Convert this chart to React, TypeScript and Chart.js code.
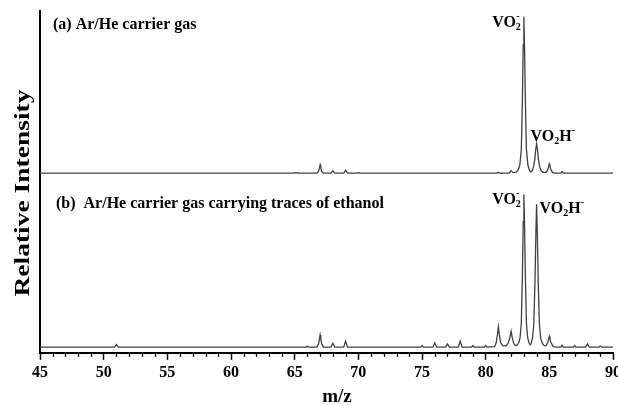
import React, { useEffect, useRef } from 'react';
import { Chart, registerables } from 'chart.js';

Chart.register(...registerables);

// ---- data ----
const X_MIN = 45;
const X_MAX = 90;
const X_STEP = 5;

// (a) Ar/He carrier gas — m/z and relative intensity (VO2- = 100)
const MZ_A = [
  45, 64.9, 65.1, 65.3, 66.75, 66.88, 66.95, 67, 67.05, 67.12, 67.25, 67.85, 68, 68.15,
  68.85, 69, 69.15, 69.9, 70, 70.1, 80.9, 81, 81.1, 81.85, 82, 82.15, 82.4, 82.55, 82.68,
  82.8, 82.88, 82.95, 83, 83.05, 83.12, 83.2, 83.32, 83.45, 83.55, 83.65, 83.76, 83.86, 83.93,
  84, 84.07, 84.14, 84.24, 84.36, 84.5, 84.75, 84.88, 84.95, 85, 85.05, 85.12, 85.25, 85.4,
  85.9, 86, 86.1, 90,
];
const INT_A = [
  0, 0, 0.3, 0, 0, 1.2, 3.5, 5.3, 3.5, 1.2, 0, 0, 1.5, 0,
  0, 1.7, 0, 0, 0.3, 0, 0, 0.6, 0, 0, 1.5, 0.3, 0.6, 2, 5,
  15, 45, 82, 100, 82, 45, 15, 5, 1.5, 0.8, 1.5, 4, 9, 15,
  18.7, 15, 9, 4, 1.5, 0.5, 0.5, 2.2, 4.5, 5.9, 4.5, 2.2, 0.5, 0,
  0, 1, 0, 0,
];

// (b) Ar/He carrier gas carrying traces of ethanol
const MZ_B = [
  45, 50.85, 51, 51.15, 65.9, 66, 66.1, 66.75, 66.88, 66.95, 67, 67.05, 67.12, 67.25,
  67.85, 68, 68.15, 68.85, 69, 69.15, 74.9, 75, 75.1, 75.85, 76, 76.15, 76.85, 77, 77.15,
  77.85, 78, 78.15, 78.9, 79, 79.1, 79.9, 80, 80.1, 80.7, 80.83, 80.92, 81, 81.08, 81.17,
  81.35, 81.6, 81.76, 81.89, 82, 82.09, 82.2, 82.35, 82.5, 82.6, 82.7, 82.8, 82.88, 82.95,
  83, 83.05, 83.12, 83.2, 83.3, 83.42, 83.5, 83.58, 83.68, 83.78, 83.87, 83.95, 84, 84.05,
  84.13, 84.22, 84.32, 84.45, 84.6, 84.75, 84.88, 84.95, 85, 85.05, 85.12, 85.3, 85.5,
  85.9, 86, 86.1, 86.9, 87, 87.1, 87.85, 88, 88.15, 88.9, 89, 89.1, 90,
];
const INT_B = [
  0, 0, 1.7, 0, 0, 0.5, 0, 0, 2.2, 5.5, 8, 5.5, 2.2, 0,
  0, 2.6, 0, 0, 3.9, 0, 0, 1.1, 0, 0, 2.8, 0, 0, 2, 0,
  0, 3.9, 0, 0, 1, 0, 0, 1.1, 0, 0.3, 3, 8, 13.3, 8, 3,
  0.8, 0.8, 2.5, 6, 10.3, 6, 2.5, 1, 1.5, 3, 6, 16, 45, 82,
  100, 82, 45, 16, 6, 2.5, 1.5, 2.5, 6, 15, 42, 77, 93.5, 77,
  42, 15, 6, 2.5, 1, 1, 3, 5.5, 7, 5.5, 3, 0.5, 0,
  0, 1.3, 0, 0, 1.1, 0, 0, 2, 0, 0, 0.7, 0, 0,
];

const LABEL_A = '(a) Ar/He carrier gas';
const LABEL_B = '(b)  Ar/He carrier gas carrying traces of ethanol';
const Y_TITLE = 'Relative Intensity';
const X_TITLE = 'm/z';
const PEAK_VO2 = 83;
const PEAK_VO2H = 84;

const FONT = '"Liberation Serif", "Times New Roman", serif';
const LINE_COLOR = '#404040';

type Part = { t: string; k: 'n' | 'sub' | 'sup' };
const VO2_PARTS: Part[] = [
  { t: 'VO', k: 'n' },
  { t: '2', k: 'sub' },
  { t: '-', k: 'sup' },
];
const VO2H_PARTS: Part[] = [
  { t: 'VO', k: 'n' },
  { t: '2', k: 'sub' },
  { t: 'H', k: 'n' },
  { t: '-', k: 'sup' },
];

function drawChem(ctx: CanvasRenderingContext2D, parts: Part[], x: number, y: number, align: 'left' | 'right') {
  const big = 'bold 16px ' + FONT;
  const small = 'bold 10px ' + FONT;
  let w = 0;
  let lastSubW = 0;
  const widths: number[] = [];
  parts.forEach((p) => {
    ctx.font = p.k === 'n' ? big : small;
    widths.push(ctx.measureText(p.t).width);
  });
  parts.forEach((p, i) => {
    if (p.k === 'sup' && i > 0 && parts[i - 1].k === 'sub') {
      w += Math.max(0, widths[i] - lastSubW);
    } else {
      w += widths[i];
    }
    lastSubW = p.k === 'sub' ? widths[i] : 0;
  });
  let cx = align === 'left' ? x : x - w;
  let subStart = 0;
  ctx.textAlign = 'left';
  ctx.textBaseline = 'alphabetic';
  ctx.fillStyle = '#000';
  parts.forEach((p, i) => {
    if (p.k === 'n') {
      ctx.font = big;
      ctx.fillText(p.t, cx, y);
      cx += widths[i];
    } else if (p.k === 'sub') {
      ctx.font = small;
      subStart = cx;
      ctx.fillText(p.t, cx, y + 3);
      cx += widths[i];
    } else {
      ctx.font = small;
      const px = i > 0 && parts[i - 1].k === 'sub' ? subStart + 0.5 : cx;
      ctx.fillText(p.t, px, y - 8);
      cx = Math.max(cx, px + widths[i]);
    }
  });
}

const decorPlugin = {
  id: 'decor',
  afterDraw(chart: any) {
    const ctx: CanvasRenderingContext2D = chart.ctx;
    const xs = chart.scales.x;
    const yA = chart.scales.yA;
    const yB = chart.scales.yB;
    const area = chart.chartArea;
    ctx.save();

    // minor ticks
    ctx.strokeStyle = '#000';
    ctx.lineWidth = 1.3;
    for (let m = X_MIN + 1; m < X_MAX; m++) {
      if (m % X_STEP === 0) continue;
      const px = Math.round(xs.getPixelForValue(m)) + 0.5;
      ctx.beginPath();
      ctx.moveTo(px, area.bottom);
      ctx.lineTo(px, area.bottom + 4);
      ctx.stroke();
    }

    // panel labels
    ctx.fillStyle = '#000';
    ctx.font = 'bold 16px ' + FONT;
    ctx.textAlign = 'left';
    ctx.textBaseline = 'alphabetic';
    ctx.fillText(LABEL_A, area.left + 13, area.top + 18);
    ctx.fillText(LABEL_B, area.left + 16, area.top + 197);

    // peak labels
    const x83 = xs.getPixelForValue(PEAK_VO2);
    const x84 = xs.getPixelForValue(PEAK_VO2H);
    drawChem(ctx, VO2_PARTS, x83 - 3, yA.getPixelForValue(INT_A[MZ_A.indexOf(PEAK_VO2)]) + 10, 'right');
    drawChem(ctx, VO2H_PARTS, x84 - 6, yA.getPixelForValue(INT_A[MZ_A.indexOf(PEAK_VO2H)]) - 3, 'left');
    drawChem(ctx, VO2_PARTS, x83 - 3, yB.getPixelForValue(INT_B[MZ_B.indexOf(PEAK_VO2)]) + 10, 'right');
    drawChem(ctx, VO2H_PARTS, x84 + 3, yB.getPixelForValue(INT_B[MZ_B.indexOf(PEAK_VO2H)]) + 9, 'left');

    // y title (stretched along its length)
    ctx.font = 'bold 20px ' + FONT;
    const tw = ctx.measureText(Y_TITLE).width;
    ctx.translate(24, 193);
    ctx.rotate(-Math.PI / 2);
    ctx.scale(207 / tw, 1);
    ctx.textAlign = 'center';
    ctx.textBaseline = 'middle';
    ctx.fillText(Y_TITLE, 0, 0);
    ctx.setTransform(1, 0, 0, 1, 0, 0);

    // x title
    ctx.font = 'bold 19px ' + FONT;
    ctx.textAlign = 'center';
    ctx.textBaseline = 'alphabetic';
    ctx.fillText(X_TITLE, 337, 402);

    ctx.restore();
  },
};

export default function App() {
  const ref = useRef<HTMLCanvasElement | null>(null);

  useEffect(() => {
    document.body.style.margin = '0';
    const canvas = ref.current;
    if (!canvas) return;
    const chart = new Chart(canvas, {
      type: 'line',
      data: {
        datasets: [
          {
            label: LABEL_A,
            data: MZ_A.map((x, i) => ({ x, y: INT_A[i] })),
            yAxisID: 'yA',
            borderColor: LINE_COLOR,
            borderWidth: 1.3,
            pointRadius: 0,
            tension: 0,
            fill: false,
          },
          {
            label: LABEL_B,
            data: MZ_B.map((x, i) => ({ x, y: INT_B[i] })),
            yAxisID: 'yB',
            borderColor: LINE_COLOR,
            borderWidth: 1.3,
            pointRadius: 0,
            tension: 0,
            fill: false,
          },
        ],
      },
      options: {
        responsive: false,
        animation: false,
        devicePixelRatio: 1,
        layout: { padding: { left: 40, top: 11, right: 5, bottom: 20 } },
        plugins: { legend: { display: false }, tooltip: { enabled: false }, title: { display: false } },
        scales: {
          x: {
            type: 'linear',
            position: 'bottom',
            min: X_MIN,
            max: X_MAX,
            ticks: {
              stepSize: X_STEP,
              autoSkip: false,
              maxRotation: 0,
              padding: 3,
              color: '#000',
              font: { family: FONT, size: 16, weight: 'bold' },
            },
            grid: {
              display: true,
              drawOnChartArea: false,
              drawTicks: true,
              tickLength: 7,
              tickWidth: 1.5,
              tickColor: '#000',
            },
            border: { display: true, color: '#000', width: 2 },
            afterFit: (s: any) => {
              s.paddingLeft = 0;
              s.paddingRight = 0;
            },
          },
          yA: {
            type: 'linear',
            display: false,
            min: -114.8,
            max: 103.6,
          },
          yB: {
            type: 'linear',
            position: 'left',
            min: -3.7,
            max: 219.8,
            ticks: { display: false },
            grid: { display: false, drawTicks: false, tickLength: 0 },
            border: { display: true, color: '#000', width: 2 },
          },
        },
      },
      plugins: [decorPlugin],
    } as any);
    return () => chart.destroy();
  }, []);

  return (
    <div style={{ width: 618, height: 405 }}>
      <canvas ref={ref} width={618} height={405} style={{ display: 'block' }} />
    </div>
  );
}
